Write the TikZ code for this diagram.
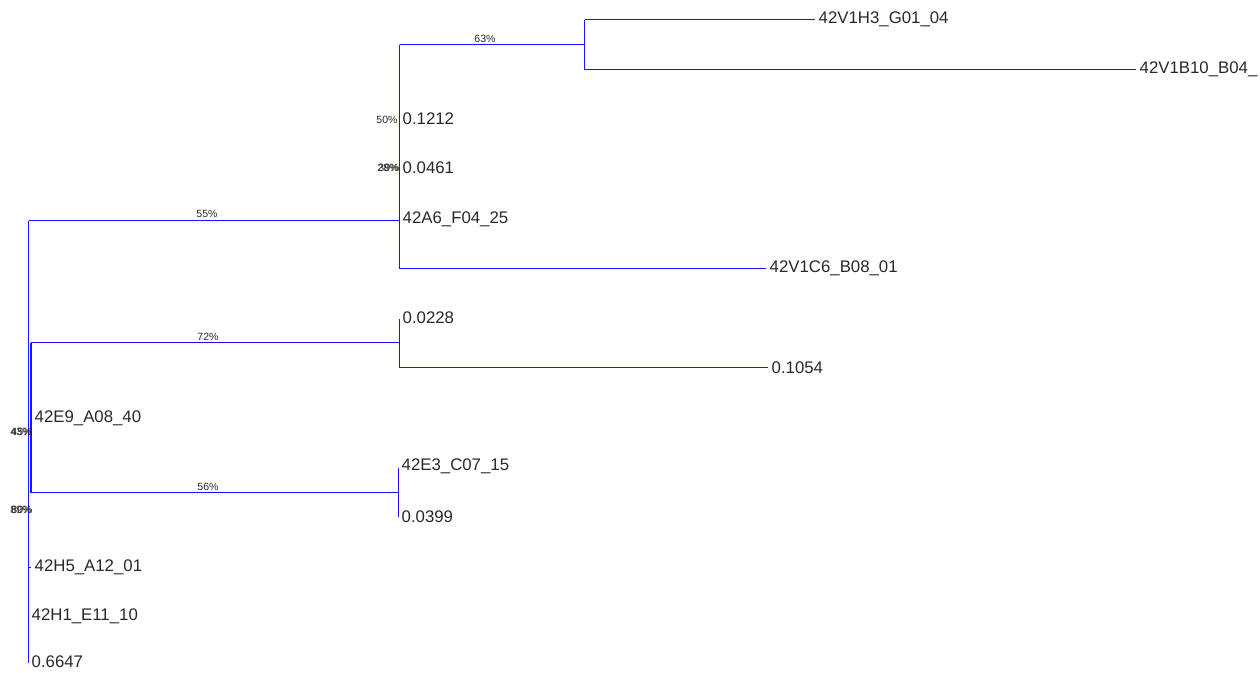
\documentclass[tikz,border=0pt]{standalone}
\usepackage{fontspec}
\setmainfont{Liberation Sans}
\definecolor{treeblue}{RGB}{20,20,255}
\definecolor{labgray}{RGB}{40,40,40}
\begin{document}
\begin{tikzpicture}[x=1pt,y=-1pt,
  edge/.style={draw=treeblue, line width=1.1pt},
  leaf/.style={anchor=west, inner sep=0pt, inner xsep=3.5pt, font=\fontsize{16.8}{17}\selectfont, text=labgray},
  pct/.style={font=\fontsize{10.5}{11}\selectfont, inner sep=0pt, text=labgray}]
\useasboundingbox (0,0) rectangle (1260,672);
% internal nodes
\coordinate (r0) at (28.5,220.5);
\coordinate (r1) at (28.5,662.5);
\coordinate (a) at (399.5,220.5);
\coordinate (a0) at (399.5,44.5);
\coordinate (a1) at (399.5,268.5);
\coordinate (b) at (584.5,44.5);
\coordinate (b0) at (584.5,19.5);
\coordinate (b1) at (584.5,69.5);
\coordinate (c0) at (31,342.5);
\coordinate (c1) at (31,492.5);
\coordinate (d) at (399.5,342.5);
\coordinate (d0) at (399.5,318.5);
\coordinate (d1) at (399.5,367.5);
\coordinate (e) at (398.5,492.5);
\coordinate (e0) at (398.5,467.5);
\coordinate (e1) at (398.5,516.5);
\coordinate (k) at (28.5,567.5);
% leaf attachment points
\coordinate (t1) at (815,19.5);
\coordinate (t2) at (1136,69.5);
\coordinate (t3) at (399,119);
\coordinate (t4) at (399,168);
\coordinate (t5) at (399,219);
\coordinate (t6) at (766,268.5);
\coordinate (t7) at (399,318);
\coordinate (t8) at (768,367.5);
\coordinate (t9) at (31,418);
\coordinate (t10) at (398,466);
\coordinate (t11) at (398,517);
\coordinate (t12) at (31,567.5);
\coordinate (t13) at (28,616);
\coordinate (t14) at (28,662);
% edges
\draw[edge] (r0) -- (r1) (r0) -- (a) (a0) -- (a1) (a0) -- (b)
  (b0) -- (b1) (b0) -- (t1) (b1) -- (t2) (a1) -- (t6)
  (c0) -- (d) (d0) -- (d1) (d1) -- (t8) (c1) -- (e) (e0) -- (e1)
  (k) -- (t12);
\draw[edge, line width=2pt] (c0) -- (c1);
% leaves
\node[leaf] (l1) at (t1) {42V1H3\_G01\_04};
\node[leaf] (l2) at (t2) {42V1B10\_B04\_};
\node[leaf] (l3) at (t3) {0.1212};
\node[leaf] (l4) at (t4) {0.0461};
\node[leaf] (l5) at (t5) {42A6\_F04\_25};
\node[leaf] (l6) at (t6) {42V1C6\_B08\_01};
\node[leaf] (l7) at (t7) {0.0228};
\node[leaf] (l8) at (t8) {0.1054};
\node[leaf] (l9) at (t9) {42E9\_A08\_40};
\node[leaf] (l10) at (t10) {42E3\_C07\_15};
\node[leaf] (l11) at (t11) {0.0399};
\node[leaf] (l12) at (t12) {42H5\_A12\_01};
\node[leaf] (l13) at (t13) {42H1\_E11\_10};
\node[leaf] (l14) at (t14) {0.6647};
% percentages
\node[pct] (p55) at (207,214) {55\%};
\node[pct] (p63) at (485,39) {63\%};
\node[pct] (p72) at (208,337) {72\%};
\node[pct] (p56) at (208,487) {56\%};
\node[pct] (p50) at (387,120) {50\%};
\node[pct] (p29a) at (388,168) {28\%};
\node[pct] (p29b) at (389,168) {39\%};
\node[pct] (p43a) at (21,432) {43\%};
\node[pct] (p43b) at (22,432) {45\%};
\node[pct] (p89a) at (21,510) {89\%};
\node[pct] (p89b) at (22,510) {80\%};
\end{tikzpicture}
\end{document}
